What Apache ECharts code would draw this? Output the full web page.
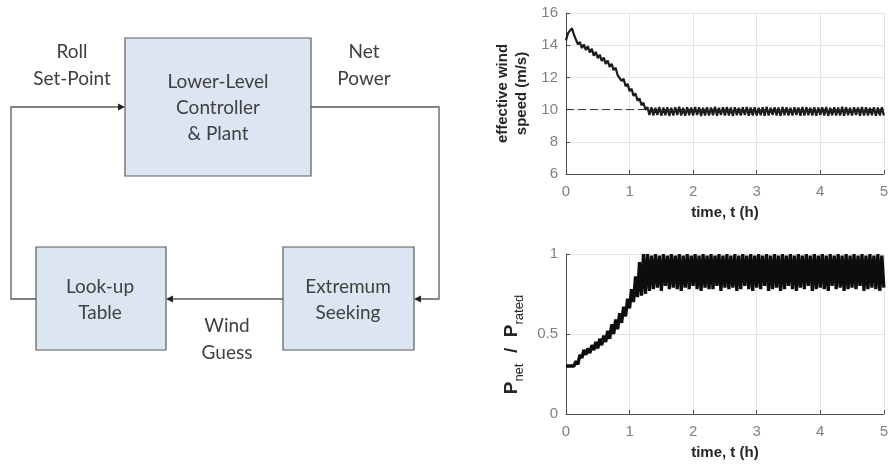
<!DOCTYPE html>
<html>
<head>
<meta charset="utf-8">
<script src="https://cdn.jsdelivr.net/npm/echarts@6/dist/echarts.min.js"></script>
<style>
  html, body { margin: 0; padding: 0; background: #fff; }
  #main { width: 891px; height: 476px; }
</style>
</head>
<body>
<div id="main"></div>
<script>
// sampling step of both signals, hours
var dt = 1 / 32;

var xTicks = [0, 1, 2, 3, 4, 5];
var windTicks = [6, 8, 10, 12, 14, 16];
var powerTicks = [0, 0.5, 1];
var windRef = 10;

// effective wind speed (m/s)
var windSpeed = [
  14.30, 14.75, 14.70, 15.05, 14.65, 14.60, 14.05, 14.20, 13.82, 14.05,
  13.70, 13.93, 13.55, 13.77, 13.35, 13.58, 13.20, 13.41, 13.02, 13.23,
  12.84, 13.05, 12.65, 12.85, 12.45, 12.60, 12.13, 12.25, 11.78, 11.92,
  11.45, 11.60, 11.15, 11.30, 10.85, 11.00, 10.55, 10.70, 10.27, 10.43,
  9.99, 10.15, 9.66,
  10.14, 9.63, 10.12, 9.66, 10.16, 9.62, 10.13, 9.65, 10.15, 9.61,
  10.11, 9.64, 10.14, 9.67, 10.17, 9.63, 10.12, 9.62, 10.15, 9.65,
  10.13, 9.63, 10.16, 9.66, 10.14, 9.61, 10.11, 9.64, 10.15, 9.63,
  10.13, 9.65, 10.17, 9.62, 10.12, 9.66, 10.14, 9.63, 10.16, 9.64,
  10.13, 9.61, 10.15, 9.65, 10.12, 9.63, 10.14, 9.66, 10.16, 9.62,
  10.13, 9.64, 10.15, 9.63, 10.11, 9.65, 10.14, 9.62, 10.17, 9.64,
  10.12, 9.66, 10.15, 9.63, 10.13, 9.61, 10.16, 9.65, 10.14, 9.63,
  10.12, 9.64, 10.15, 9.66, 10.13, 9.62, 10.16, 9.63, 10.14, 9.65,
  10.11, 9.64, 10.15, 9.62, 10.13, 9.66, 10.14, 9.63, 10.16, 9.61,
  10.12, 9.65, 10.15, 9.63, 10.13, 9.64, 10.17, 9.62, 10.14, 9.65,
  10.12, 9.63, 10.15, 9.66, 10.13, 9.62, 10.16, 9.64, 10.14, 9.63,
  10.12, 9.65, 10.15, 9.62, 10.13, 9.64, 10.14, 9.63
];

// P_net / P_rated
var powerRatio = [
  0.30, 0.30, 0.30, 0.30, 0.30, 0.33, 0.31, 0.37, 0.35, 0.40,
  0.37, 0.41, 0.38, 0.43, 0.40, 0.45, 0.41, 0.47, 0.43, 0.49,
  0.45, 0.52, 0.47, 0.56, 0.50, 0.59, 0.53, 0.63, 0.57, 0.67,
  0.61, 0.72, 0.66, 0.78, 0.70, 0.86, 0.73, 0.95, 0.74, 1.00,
  0.75, 1.00, 0.77,
  0.99, 0.78, 1.00, 0.79, 0.99, 0.77, 1.00, 0.80, 0.99, 0.78,
  1.00, 0.79, 0.99, 0.78, 1.00, 0.77, 0.99, 0.79, 1.00, 0.78,
  0.99, 0.80, 1.00, 0.78, 0.99, 0.77, 1.00, 0.79, 0.99, 0.78,
  1.00, 0.78, 0.99, 0.80, 1.00, 0.77, 0.99, 0.79, 1.00, 0.78,
  0.99, 0.79, 1.00, 0.77, 0.99, 0.78, 1.00, 0.80, 0.99, 0.78,
  1.00, 0.77, 0.99, 0.79, 1.00, 0.78, 0.99, 0.80, 1.00, 0.77,
  0.99, 0.78, 1.00, 0.79, 0.99, 0.77, 1.00, 0.78, 0.99, 0.80,
  1.00, 0.78, 0.99, 0.77, 1.00, 0.79, 0.99, 0.78, 1.00, 0.80,
  0.99, 0.77, 1.00, 0.78, 0.99, 0.79, 1.00, 0.78, 0.99, 0.77,
  1.00, 0.80, 0.99, 0.78, 1.00, 0.79, 0.99, 0.77, 1.00, 0.78,
  0.99, 0.79, 1.00, 0.78, 0.99, 0.80, 1.00, 0.77, 0.99, 0.78,
  1.00, 0.79, 0.99, 0.78, 1.00, 0.77, 0.99, 0.79
];

function toPairs(arr) {
  return arr.map(function (v, i) { return [i * dt, v]; });
}

var chart = echarts.init(document.getElementById('main'));

var tickColor = '#7f7f7f';
var lineDark = '#4d4d4d';
var gridGray = '#e3e3e3';
var boxFill = '#dce6f2';
var boxStroke = '#5a5a5a';
var diagFont = { fontFamily: 'Lato', fontSize: 19, fill: '#404040' };

function diagText(x, y, text) {
  return {
    type: 'text', x: x, y: y,
    style: Object.assign({ text: text, textAlign: 'center', textVerticalAlign: 'middle' }, diagFont)
  };
}
function box(x, y, w, h) {
  return {
    type: 'rect', shape: { x: x, y: y, width: w, height: h },
    style: { fill: boxFill, stroke: boxStroke, lineWidth: 1.2 }
  };
}
function wire(points) {
  return { type: 'polyline', shape: { points: points }, style: { stroke: boxStroke, lineWidth: 1.3, fill: null } };
}
function arrowHead(points) {
  return { type: 'polygon', shape: { points: points }, style: { fill: '#222' } };
}

function xAxisCfg(gridIndex) {
  return {
    type: 'value', gridIndex: gridIndex, min: 0, max: 5, interval: 1,
    name: 'time, t (h)', nameLocation: 'middle', nameGap: 31,
    nameTextStyle: { fontFamily: 'Liberation Sans', fontSize: 15, fontWeight: 'bold', color: '#262626' },
    axisLine: { lineStyle: { color: lineDark, width: 1 } },
    axisTick: { inside: true, length: 4, lineStyle: { color: lineDark } },
    axisLabel: { color: tickColor, fontFamily: 'Liberation Sans', fontSize: 15, margin: 10,
      formatter: function (v) { return xTicks.indexOf(v) >= 0 ? String(v) : ''; } },
    splitLine: { show: true, lineStyle: { color: gridGray, width: 1 } }
  };
}

option = {
  backgroundColor: '#ffffff',
  animation: false,
  grid: [
    { left: 566, top: 13, width: 321, height: 161 },
    { left: 566, top: 254, width: 321, height: 160 }
  ],
  xAxis: [xAxisCfg(0), xAxisCfg(1)],
  yAxis: [
    {
      type: 'value', gridIndex: 0, min: windTicks[0], max: windTicks[windTicks.length - 1], interval: 2,
      name: 'effective wind\nspeed (m/s)', nameLocation: 'middle', nameGap: 35,
      nameTextStyle: { fontFamily: 'Liberation Sans', fontSize: 15, fontWeight: 'bold', color: '#262626', lineHeight: 19 },
      axisLine: { show: true, lineStyle: { color: lineDark, width: 1 } },
      axisTick: { show: true, inside: true, length: 4, lineStyle: { color: lineDark } },
      axisLabel: { color: tickColor, fontFamily: 'Liberation Sans', fontSize: 15, margin: 8 },
      splitLine: { show: true, lineStyle: { color: gridGray, width: 1 } }
    },
    {
      type: 'value', gridIndex: 1, min: powerTicks[0], max: powerTicks[powerTicks.length - 1], interval: 0.5,
      name: '{p|P}{s|net}{p|  /  P}{s|rated}{p|    }', nameLocation: 'middle', nameGap: 40,
      nameTextStyle: {
        rich: {
          p: { fontFamily: 'Liberation Sans', fontSize: 19, fontWeight: 'bold', color: '#262626', lineHeight: 28, verticalAlign: 'middle' },
          s: { fontFamily: 'Liberation Sans', fontSize: 13, color: '#262626', lineHeight: 13, verticalAlign: 'bottom' }
        }
      },
      axisLine: { show: true, lineStyle: { color: lineDark, width: 1 } },
      axisTick: { show: true, inside: true, length: 4, lineStyle: { color: lineDark } },
      axisLabel: { color: tickColor, fontFamily: 'Liberation Sans', fontSize: 15, margin: 8 },
      splitLine: { show: true, lineStyle: { color: gridGray, width: 1 } }
    }
  ],
  series: [
    {
      type: 'line', xAxisIndex: 0, yAxisIndex: 0,
      data: [[0, windRef], [5, windRef]],
      showSymbol: false, silent: true,
      lineStyle: { color: '#333', width: 1, type: [8, 4] }
    },
    {
      type: 'line', xAxisIndex: 0, yAxisIndex: 0,
      data: toPairs(windSpeed),
      showSymbol: false,
      lineStyle: { color: '#1c1c1c', width: 2.2 }
    },
    {
      type: 'line', xAxisIndex: 1, yAxisIndex: 1,
      data: toPairs(powerRatio),
      showSymbol: false,
      lineStyle: { color: '#0d0d0d', width: 3.3 }
    }
  ],
  graphic: [
    // boxes
    box(125, 38, 186, 138),
    box(36, 247, 130, 103),
    box(283, 247, 131, 103),
    // wires
    wire([[36, 299], [11, 299], [11, 107], [119, 107]]),
    arrowHead([[125, 107], [118, 103.5], [118, 110.5]]),
    wire([[311, 107], [439, 107], [439, 299], [420, 299]]),
    arrowHead([[414, 299], [421, 295.5], [421, 302.5]]),
    wire([[283, 299], [172, 299]]),
    arrowHead([[166, 299], [173, 295.5], [173, 302.5]]),
    // labels
    diagText(72, 52, 'Roll'),
    diagText(72, 79, 'Set-Point'),
    diagText(364, 52, 'Net'),
    diagText(364, 79, 'Power'),
    diagText(218, 82, 'Lower-Level'),
    diagText(218, 108, 'Controller'),
    diagText(218, 134, '& Plant'),
    diagText(100, 287, 'Look-up'),
    diagText(100, 313, 'Table'),
    diagText(348, 287, 'Extremum'),
    diagText(348, 313, 'Seeking'),
    diagText(227, 326, 'Wind'),
    diagText(227, 353, 'Guess')
  ]
};

chart.setOption(option);
</script>
</body>
</html>
